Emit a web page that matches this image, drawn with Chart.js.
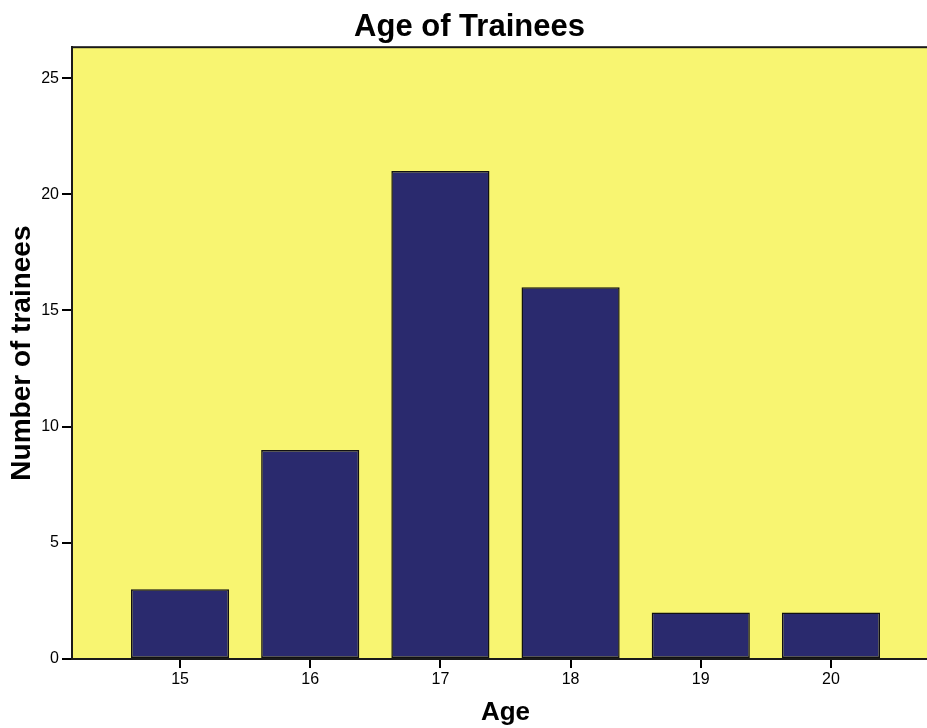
<!DOCTYPE html>
<html>
<head>
<meta charset="utf-8">
<script src="https://cdn.jsdelivr.net/npm/chart.js@4/dist/chart.umd.min.js"></script>
<style>
html,body{margin:0;padding:0;background:#fff;overflow:hidden;}
#wrap{width:927px;height:728px;overflow:hidden;}
canvas{display:block;}
</style>
</head>
<body>
<div id="wrap"><canvas id="c" width="940" height="728"></canvas></div>
<script>
const ages = [15, 16, 17, 18, 19, 20];
const trainees = [3, 9, 21, 16, 2, 2];
const yTicks = [0, 5, 10, 15, 20, 25];

const plotFrame = {
  id: 'plotFrame',
  beforeDatasetsDraw(chart) {
    const a = chart.chartArea, ctx = chart.ctx;
    ctx.save();
    ctx.fillStyle = '#F8F571';
    ctx.fillRect(a.left, a.top, a.right - a.left, a.bottom - a.top);
    ctx.restore();
  },
  afterDatasetsDraw(chart) {
    const a = chart.chartArea, ctx = chart.ctx;
    ctx.save();
    ctx.strokeStyle = '#1a1a1a';
    ctx.lineWidth = 2;
    ctx.strokeRect(a.left, a.top, a.right - a.left, a.bottom - a.top);
    ctx.restore();
  }
};

new Chart(document.getElementById('c'), {
  type: 'bar',
  data: {
    datasets: [{
      data: ages.map((a, i) => ({x: a, y: trainees[i]})),
      backgroundColor: '#2A2A6E',
      borderColor: '#111111',
      borderWidth: 1.5,
      borderSkipped: false,
      categoryPercentage: 1,
      barPercentage: 0.754
    }]
  },
  plugins: [plotFrame],
  options: {
    responsive: false,
    animation: false,
    layout: {padding: {left: 0, right: 1, top: 0, bottom: 0}},
    plugins: {
      legend: {display: false},
      tooltip: {enabled: false},
      title: {
        display: true,
        text: 'Age of Trainees',
        color: '#000',
        font: {family: 'Liberation Sans, Arial, sans-serif', size: 31, weight: 'bold'},
        padding: {top: 9, bottom: 1}
      }
    },
    scales: {
      x: {
        type: 'linear',
        min: 14.17,
        max: 20.83,
        offset: false,
        afterBuildTicks(scale) { scale.ticks = ages.map(v => ({value: v})); },
        afterFit(scale) { scale.height = 69; },
        grid: {offset: false, drawOnChartArea: false, drawTicks: true, tickLength: 9, color: '#000', lineWidth: 2},
        border: {display: true, color: '#1a1a1a', width: 2},
        ticks: {color: '#000', font: {family: 'Liberation Sans, Arial, sans-serif', size: 16}, padding: 2, maxRotation: 0},
        title: {display: true, text: 'Age', color: '#000', font: {family: 'Liberation Sans, Arial, sans-serif', size: 26, weight: 'bold'}, padding: {top: 6, bottom: 0}}
      },
      y: {
        min: 0,
        max: 26.33,
        afterBuildTicks(scale) { scale.ticks = yTicks.map(v => ({value: v})); },
        afterFit(scale) { scale.width = 72; },
        grid: {drawOnChartArea: false, drawTicks: true, tickLength: 10, color: '#000', lineWidth: 2},
        border: {display: true, color: '#1a1a1a', width: 2},
        ticks: {color: '#000', font: {family: 'Liberation Sans, Arial, sans-serif', size: 16}, padding: 3},
        title: {display: true, text: 'Number of trainees', color: '#000', font: {family: 'Liberation Sans, Arial, sans-serif', size: 28, weight: 'bold'}, padding: {top: 5, bottom: 0}}
      }
    }
  }
});
</script>
</body>
</html>
